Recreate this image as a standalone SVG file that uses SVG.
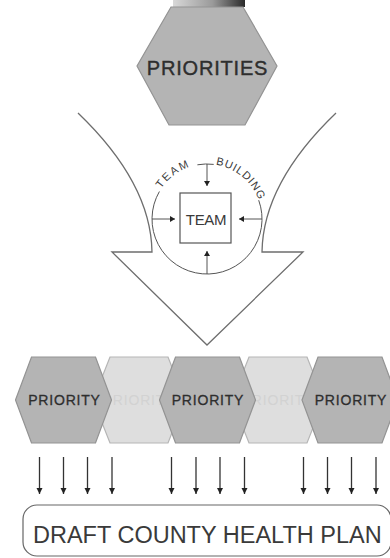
<svg xmlns="http://www.w3.org/2000/svg" width="390" height="558" viewBox="0 0 390 558">
<style>
text{font-family:"Liberation Sans",Arial,sans-serif;}
.hexd{fill:#b4b4b4;stroke:#939393;stroke-width:1.2;}
.hexl{fill:#dedede;stroke:#b5b5b5;stroke-width:1.2;}
.tp{font-size:14px;fill:#2e2e2e;stroke:#2e2e2e;stroke-width:0.3;letter-spacing:0.8px;text-anchor:middle;}
.tl{font-size:14px;fill:#d2d2d2;letter-spacing:0.8px;text-anchor:middle;}
.ln{fill:none;stroke:#6e6e6e;stroke-width:1.3;}
.ar{stroke:#333;stroke-width:1.3;fill:none;}
.ci{stroke:#555;stroke-width:1;fill:none;}
.ct{font-size:11px;fill:#3a3a3a;}
</style>
<defs>
<marker id="ah" markerUnits="userSpaceOnUse" markerWidth="7" markerHeight="7" refX="6" refY="3.5" orient="auto">
<path d="M0,0.5 L6,3.5 L0,6.5 z" fill="#222"/>
</marker>
<marker id="ah2" markerUnits="userSpaceOnUse" markerWidth="6" markerHeight="6" refX="5" refY="3" orient="auto">
<path d="M0,0 L5,3 L0,6 z" fill="#222"/>
</marker>
<linearGradient id="topbar" x1="0" y1="0" x2="1" y2="0">
<stop offset="0" stop-color="#d8d8d8"/>
<stop offset="0.55" stop-color="#9a9a9a"/>
<stop offset="1" stop-color="#2a2a2a"/>
</linearGradient>
<path id="arcPath" d="M152,219 A55,55 0 0 1 262,219"/>
</defs>

<g id="priorities">
<rect x="173" y="0" width="72" height="7" fill="url(#topbar)"/>
<polygon class="hexd" points="137,66 171,7 243,7 277,66 245,125 169,125"/>
<text x="207.5" y="75" style="font-size:20px;fill:#2e2e2e;stroke:#2e2e2e;stroke-width:0.4;letter-spacing:0.8px;text-anchor:middle;">PRIORITIES</text>
</g>

<g id="funnel">
<path class="ln" d="M78,113 Q151,183 152,252 L112,252 L207,345 L303,252 L262,252 Q263,183 336,113"/>
</g>

<g id="team-building">
<path class="ci" d="M258.7,200.2 A55,55 0 1 1 159.4,191.5"/>
<path class="ci" d="M197.4,164.8 A55,55 0 0 1 213.7,164.4"/>
<text class="ct"><textPath href="#arcPath" startOffset="32" textLength="36" lengthAdjust="spacing">TEAM</textPath></text>
<text class="ct"><textPath href="#arcPath" startOffset="95" textLength="58" lengthAdjust="spacing">BUILDING</textPath></text>
</g>

<g id="team">
<rect x="180" y="193" width="51" height="50" fill="#fff" stroke="#555" stroke-width="1.2"/>
<text x="206" y="225" style="font-size:15px;fill:#3a3a3a;text-anchor:middle;letter-spacing:-0.3px;">TEAM</text>
</g>

<g id="connectors-team">
<line class="ci" x1="207" y1="164" x2="207" y2="186" marker-end="url(#ah2)"/>
<line class="ci" x1="152" y1="219" x2="175" y2="219" marker-end="url(#ah2)"/>
<line class="ci" x1="262" y1="219" x2="239" y2="219" marker-end="url(#ah2)"/>
<line class="ci" x1="207" y1="274" x2="207" y2="251" marker-end="url(#ah2)"/>
</g>

<g id="priority-light-1">
<polygon class="hexl" points="93,400 110,357 168,357 185,400 168,443 110,443"/>
<text class="tl" x="139" y="405">PRIORITY</text>
</g>
<g id="priority-light-2">
<polygon class="hexl" points="232,400 249,357 307,357 324,400 307,443 249,443"/>
<text class="tl" x="278" y="405">PRIORITY</text>
</g>
<g id="priority-1">
<polygon class="hexd" points="15.5,400 31.5,357 95.5,357 111.5,400 95.5,443 31.5,443"/>
<text class="tp" x="64.5" y="405">PRIORITY</text>
</g>
<g id="priority-2">
<polygon class="hexd" points="159.5,400 175.5,357 239.5,357 255.5,400 239.5,443 175.5,443"/>
<text class="tp" x="208" y="405">PRIORITY</text>
</g>
<g id="priority-3">
<polygon class="hexd" points="302,400 318,357 382,357 398,400 382,443 318,443"/>
<text class="tp" x="351" y="405">PRIORITY</text>
</g>

<g id="connectors">
<line class="ar" x1="39.5" y1="457" x2="39.5" y2="494" marker-end="url(#ah)"/>
<line class="ar" x1="63.5" y1="457" x2="63.5" y2="494" marker-end="url(#ah)"/>
<line class="ar" x1="87.5" y1="457" x2="87.5" y2="494" marker-end="url(#ah)"/>
<line class="ar" x1="112" y1="457" x2="112" y2="494" marker-end="url(#ah)"/>
<line class="ar" x1="171.5" y1="457" x2="171.5" y2="494" marker-end="url(#ah)"/>
<line class="ar" x1="196" y1="457" x2="196" y2="494" marker-end="url(#ah)"/>
<line class="ar" x1="220" y1="457" x2="220" y2="494" marker-end="url(#ah)"/>
<line class="ar" x1="244.5" y1="457" x2="244.5" y2="494" marker-end="url(#ah)"/>
<line class="ar" x1="303.5" y1="457" x2="303.5" y2="494" marker-end="url(#ah)"/>
<line class="ar" x1="327.5" y1="457" x2="327.5" y2="494" marker-end="url(#ah)"/>
<line class="ar" x1="351.5" y1="457" x2="351.5" y2="494" marker-end="url(#ah)"/>
<line class="ar" x1="376" y1="457" x2="376" y2="494" marker-end="url(#ah)"/>
</g>

<g id="plan">
<rect x="23" y="505" width="368" height="51" rx="14" ry="14" fill="#fff" stroke="#666" stroke-width="1.2"/>
<text x="33" y="543" style="font-size:23.5px;fill:#3a3a3a;">DRAFT COUNTY HEALTH PLAN</text>
</g>
</svg>
